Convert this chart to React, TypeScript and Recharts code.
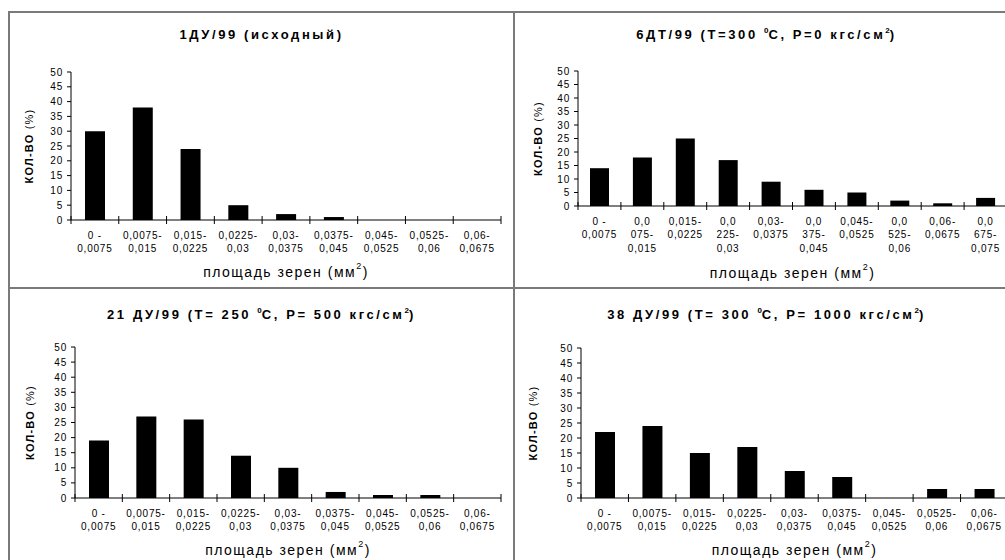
import React from 'react';
import { BarChart, Bar, XAxis, YAxis } from 'recharts';

// grain area bins (mm2), two-line tick labels
const binsStd = [
  '0 -\n0,0075',
  '0,0075-\n0,015',
  '0,015-\n0,0225',
  '0,0225-\n0,03',
  '0,03-\n0,0375',
  '0,0375-\n0,045',
  '0,045-\n0,0525',
  '0,0525-\n0,06',
  '0,06-\n0,0675',
];
// the 6ДТ chart has one more bin and its labels wrap differently
const bins6DT = [
  '0 -\n0,0075',
  '0,0\n075-\n0,015',
  '0,015-\n0,0225',
  '0,0\n225-\n0,03',
  '0,03-\n0,0375',
  '0,0\n375-\n0,045',
  '0,045-\n0,0525',
  '0,0\n525-\n0,06',
  '0,06-\n0,0675',
  '0,0\n675-\n0,075',
];

const values1DU = [30, 38, 24, 5, 2, 1, 0, 0, 0];
const values6DT = [14, 18, 25, 17, 9, 6, 5, 2, 1, 3];
const values21DU = [19, 27, 26, 14, 10, 2, 1, 1, 0];
const values38DU = [22, 24, 15, 17, 9, 7, 0, 3, 3];

const yTicks = [0, 5, 10, 15, 20, 25, 30, 35, 40, 45, 50];

const FONT = '"Liberation Sans", Arial, sans-serif';

interface PanelProps {
  bins: string[];
  values: number[];
  plotLeft: number;
  plotTop: number;
  plotWidth: number;
  plotHeight: number;
  barSize: number;
  yLabelGap: number;
  xLabelGap: number;
}

const Panel: React.FC<PanelProps> = (p) => {
  const data = p.bins.map((bin, i) => ({ bin, value: p.values[i] }));
  const step = p.plotWidth / p.bins.length;
  const axisW = 60;
  const top = 10;
  const right = 20;
  const xAxisH = 80;

  const renderTick = (props: any) => {
    const { x, y, payload, index } = props;
    const half = payload?.offset || step / 2;
    const lines = String(payload.value).split('\n');
    return (
      <g>
        <line x1={x - half} x2={x - half} y1={y - 4} y2={y + 4} stroke="#000" />
        {index === p.bins.length - 1 && (
          <line x1={x + half} x2={x + half} y1={y - 4} y2={y + 4} stroke="#000" />
        )}
        <text
          x={x}
          y={y + 18.5}
          textAnchor="middle"
          fontSize={10}
          letterSpacing={0.8}
          fill="#000"
          fontFamily={FONT}
        >
          {lines.map((ln, i) => (
            <tspan key={i} x={x} dy={i === 0 ? 0 : 13.5}>
              {ln}
            </tspan>
          ))}
        </text>
      </g>
    );
  };

  const renderXLabel = (props: any) => {
    const vb = props.viewBox;
    const cx = vb.x + vb.width / 2;
    const cy = vb.y + p.xLabelGap;
    return (
      <text
        x={cx}
        y={cy}
        textAnchor="middle"
        dominantBaseline="central"
        fontSize={14}
        letterSpacing={1.5}
        fill="#000"
        fontFamily={FONT}
      >
        площадь зерен (мм
        <tspan dy={-6} fontSize={9}>
          2
        </tspan>
        <tspan dy={6}>)</tspan>
      </text>
    );
  };

  const renderYLabel = (props: any) => {
    const vb = props.viewBox;
    const cx = vb.x + vb.width - p.yLabelGap;
    const cy = vb.y + vb.height / 2;
    return (
      <text
        x={cx}
        y={cy}
        transform={`rotate(-90 ${cx} ${cy})`}
        textAnchor="middle"
        dominantBaseline="central"
        fontSize={11}
        letterSpacing={1.2}
        fill="#000"
        fontFamily={FONT}
      >
        <tspan fontWeight="bold">КОЛ-ВО</tspan>
        <tspan> (%)</tspan>
      </text>
    );
  };

  return (
    <div style={{ position: 'absolute', left: p.plotLeft - axisW, top: p.plotTop - top }}>
      <BarChart
        width={axisW + p.plotWidth + right}
        height={top + p.plotHeight + xAxisH}
        data={data}
        margin={{ top, right, bottom: 0, left: 0 }}
        barSize={p.barSize}
      >
        <XAxis
          dataKey="bin"
          interval={0}
          height={xAxisH}
          tickSize={0}
          tickMargin={0}
          tickLine={false}
          stroke="#000"
          tick={renderTick}
          label={renderXLabel}
        />
        <YAxis
          width={axisW}
          domain={[0, 50]}
          ticks={yTicks}
          interval={0}
          tickSize={4}
          tickMargin={4}
          stroke="#000"
          tick={{ fontSize: 10, fill: '#000', fontFamily: FONT, letterSpacing: 0.8 }}
          label={renderYLabel}
        />
        <Bar dataKey="value" fill="#000" isAnimationActive={false} />
      </BarChart>
    </div>
  );
};

const titleStyle = (left: number, top: number): React.CSSProperties => ({
  position: 'absolute',
  left,
  top,
  width: 505,
  textAlign: 'center',
  fontFamily: FONT,
  fontWeight: 'bold',
  fontSize: 13,
  lineHeight: '15px',
  letterSpacing: 2.6,
  color: '#000',
  whiteSpace: 'nowrap',
});

const supStyle: React.CSSProperties = { fontSize: 8, verticalAlign: 'top', lineHeight: '8px', letterSpacing: 0 };

export default function App() {
  return (
    <div
      style={{
        position: 'absolute',
        left: 0,
        top: 0,
        width: 1005,
        height: 560,
        overflow: 'hidden',
        background: '#fff',
        fontFamily: FONT,
      }}
    >
      {/* panel frames */}
      <div style={{ position: 'absolute', left: 8, top: 11, width: 1011, height: 554, border: '2px solid #7a7a7a' }} />
      <div style={{ position: 'absolute', left: 513, top: 11, width: 2, height: 560, background: '#7a7a7a' }} />
      <div style={{ position: 'absolute', left: 8, top: 287, width: 1015, height: 2, background: '#7a7a7a' }} />

      <div style={titleStyle(9, 27)}>1ДУ/99 (исходный)</div>
      <div style={titleStyle(514, 27)}>
        6ДТ/99 (Т=300 <span style={supStyle}>0</span>С, Р=0 кгс/см<span style={supStyle}>2</span>)
      </div>
      <div style={titleStyle(9, 307)}>
        21 ДУ/99 (Т= 250 <span style={supStyle}>0</span>С, Р= 500 кгс/см<span style={supStyle}>2</span>)
      </div>
      <div style={titleStyle(514, 307)}>
        38 ДУ/99 (Т= 300 <span style={supStyle}>0</span>С, Р= 1000 кгс/см<span style={supStyle}>2</span>)
      </div>

      <Panel bins={binsStd} values={values1DU} plotLeft={71} plotTop={72} plotWidth={430} plotHeight={148} barSize={20} yLabelGap={42} xLabelGap={52} />
      <Panel bins={bins6DT} values={values6DT} plotLeft={578} plotTop={71} plotWidth={429} plotHeight={135} barSize={19} yLabelGap={40} xLabelGap={67} />
      <Panel bins={binsStd} values={values21DU} plotLeft={75} plotTop={347} plotWidth={426} plotHeight={151} barSize={20} yLabelGap={45} xLabelGap={52} />
      <Panel bins={binsStd} values={values38DU} plotLeft={581} plotTop={348} plotWidth={427} plotHeight={150} barSize={20} yLabelGap={48} xLabelGap={52} />
    </div>
  );
}
